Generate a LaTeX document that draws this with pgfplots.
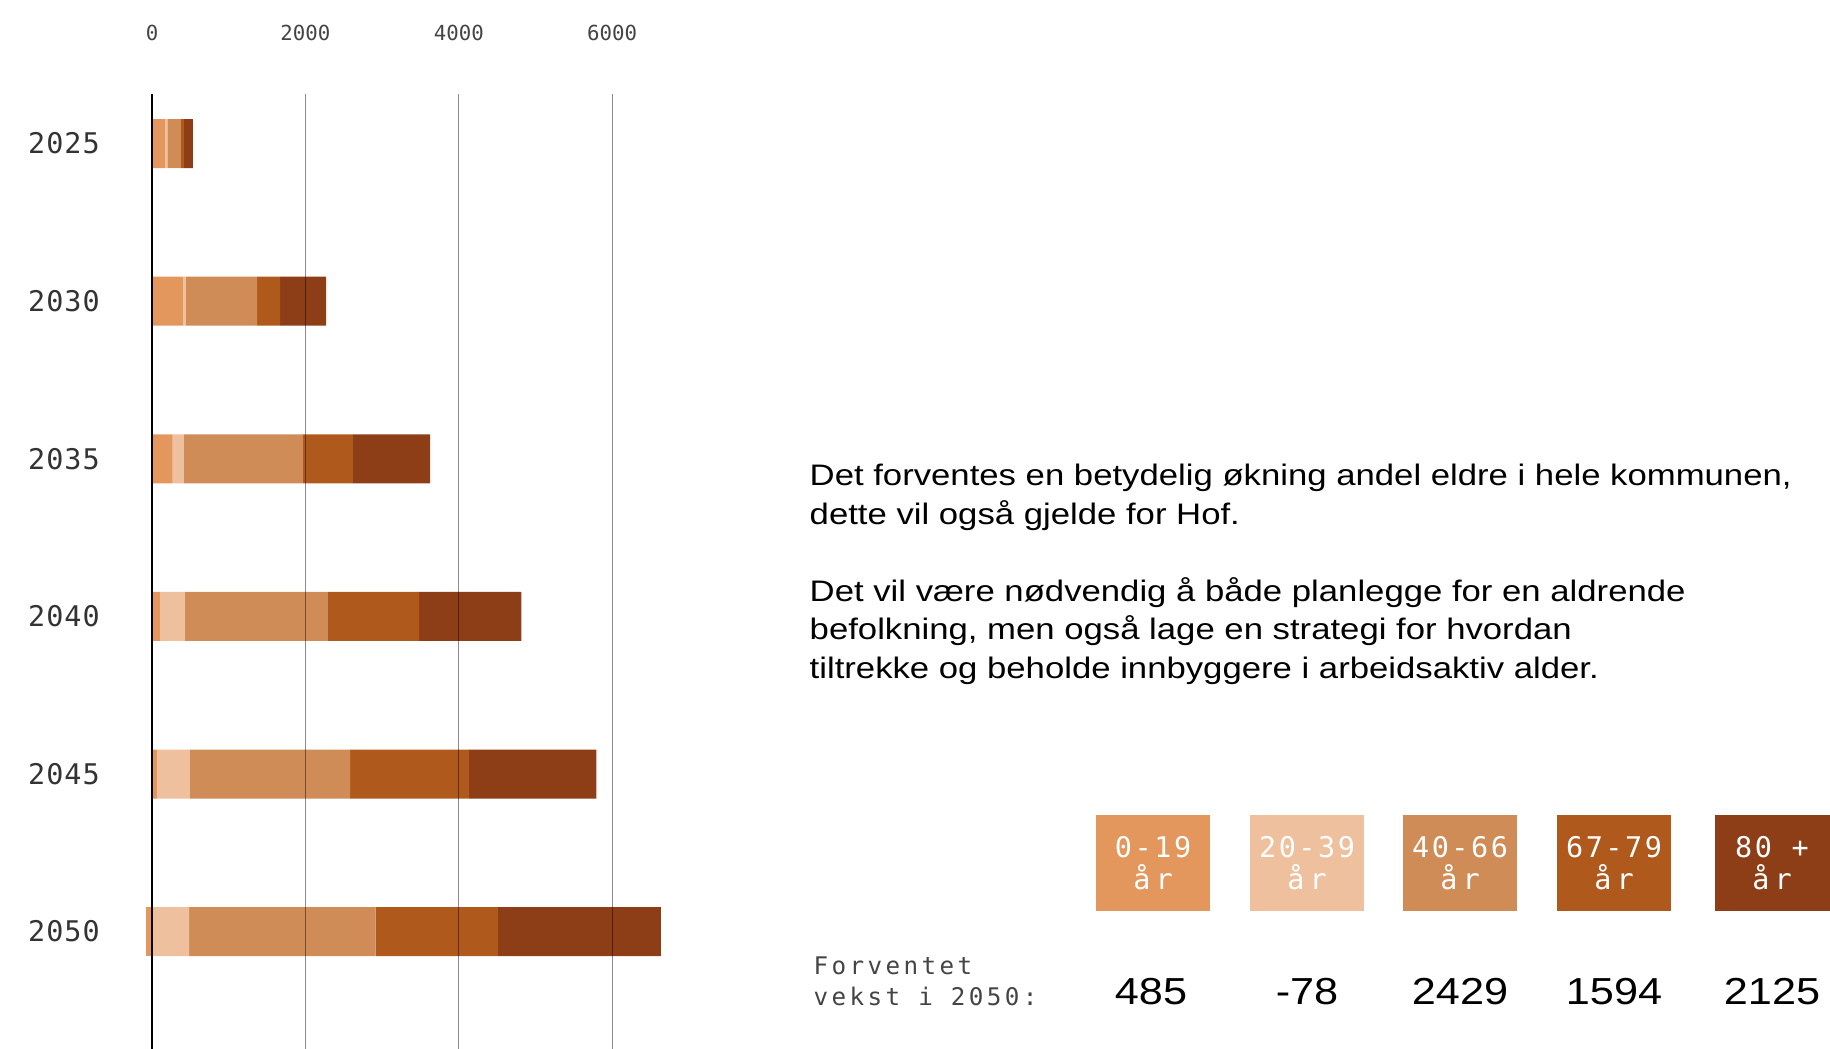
\documentclass[border=0pt]{standalone}
\usepackage{pgfplots}
\pgfplotsset{compat=1.18}
\usepackage{pgfplotstable}
\usepackage{fontspec}
\setmainfont{Liberation Sans}
\newfontfamily\parafont{Liberation Sans}[FakeStretch=1.17]
\newfontfamily\numfont{Liberation Sans}[FakeStretch=1.15]
\newfontfamily\monofont{DejaVu Sans Mono}
\newfontfamily\monoyear{DejaVu Sans Mono}[LetterSpace=3.6]
\newfontfamily\monobox{DejaVu Sans Mono}[LetterSpace=9]
\newfontfamily\monolab{DejaVu Sans Mono}[LetterSpace=14]

\definecolor{cA}{HTML}{E3975C}
\definecolor{cB}{HTML}{EEC09E}
\definecolor{cC}{HTML}{D08C57}
\definecolor{cD}{HTML}{AF5A1C}
\definecolor{cE}{HTML}{8E3E17}
\definecolor{tickgray}{HTML}{444444}
\definecolor{yeargray}{HTML}{333333}

\pgfplotstableread{
idx a b c d e
0 168 33 177 37 117
1 401 42 928 298 601
2 270 144 1552 653 1007
3 103 326 1865 1189 1333
4 65 429 2089 1552 1660
5 0 485 2429 1594 2125
}\datatable

\begin{document}
\begin{tikzpicture}
\path[use as bounding box] (0,0) rectangle (183mm,-104.9mm);

\pgfplotsset{
  baseaxis/.style={
    at={(14.05mm,-9.43mm)}, anchor=north west,
    scale only axis, width=54.84mm, height=95.47mm,
    xmin=-150, xmax=7000, ymin=-0.313, ymax=5.745,
    y dir=reverse,
    axis line style={draw=none},
    major tick length=0pt,
    bar width=4.9mm,
    /pgf/number format/assume math mode=true,
  }
}

\begin{axis}[baseaxis,
  xbar stacked,
  ytick={0,1,2,3,4,5},
  yticklabels={2025,2030,2035,2040,2045,2050},
  yticklabel style={anchor=east, inner sep=0pt, xshift=-4.0mm, text=yeargray, font=\monoyear\fontsize{8.1pt}{9pt}\selectfont},
  xtick={0,2000,4000,6000},
  xticklabels={0,2000,4000,6000},
  xticklabel pos=top,
  xticklabel style={anchor=center, inner sep=0pt, yshift=6.1mm, text=tickgray, font=\monofont\fontsize{5.9pt}{7pt}\selectfont},
]
\addplot[fill=cA, draw=none] table[x=a, y=idx] {\datatable};
\addplot[fill=cB, draw=none] table[x=b, y=idx] {\datatable};
\addplot[fill=cC, draw=none] table[x=c, y=idx] {\datatable};
\addplot[fill=cD, draw=none] table[x=d, y=idx] {\datatable};
\addplot[fill=cE, draw=none] table[x=e, y=idx] {\datatable};
\end{axis}

\begin{axis}[baseaxis,
  xbar, bar shift=0pt,
  axis on top,
  ytick=\empty,
  xtick={2000,4000,6000},
  xticklabels={},
  xmajorgrids,
  grid style={black, opacity=0.45, line width=0.35pt},
  extra x ticks={0},
  extra x tick labels={},
  extra x tick style={grid style={black, opacity=1, line width=0.6pt}},
]
\addplot[fill=cA, draw=none] coordinates {(-78,5)};
\end{axis}

\begin{scope}[x=0.1mm, y=-0.1mm]
\begin{scope}[every node/.style={anchor=base west, inner sep=0pt, font=\parafont\fontsize{8.44pt}{10pt}\selectfont}]
\node at (809,485.7) {Det forventes en betydelig økning andel eldre i hele kommunen,};
\node at (809,524.2) {dette vil også gjelde for Hof.};
\node at (809,601.2) {Det vil være nødvendig å både planlegge for en aldrende};
\node at (809,639.7) {befolkning, men også lage en strategi for hvordan};
\node at (809,678.3) {tiltrekke og beholde innbyggere i arbeidsaktiv alder.};
\end{scope}

\fill[cA] (1096,815) rectangle (1210,911);
\fill[cB] (1250,815) rectangle (1364,911);
\fill[cC] (1403,815) rectangle (1517,911);
\fill[cD] (1557,815) rectangle (1671,911);
\fill[cE] (1715,815) rectangle (1830,911);

\begin{scope}[every node/.style={anchor=base, inner sep=0pt, text=white, font=\monobox\fontsize{8.1pt}{9pt}\selectfont}]
\node at (1153,857) {0-19};
\node at (1307,857) {20-39};
\node at (1460,857) {40-66};
\node at (1614,857) {67-79};
\node at (1772,857) {80 +};
\end{scope}
\begin{scope}[every node/.style={anchor=base, inner sep=0pt, text=white, font=\monofont\fontsize{8.1pt}{9pt}\selectfont}]
\node at (1153,889) {å\kern0.18em r};
\node at (1307,889) {å\kern0.18em r};
\node at (1460,889) {å\kern0.18em r};
\node at (1614,889) {å\kern0.18em r};
\node at (1772,889) {å\kern0.18em r};
\end{scope}

\begin{scope}[every node/.style={anchor=base west, inner sep=0pt, text=tickgray, font=\monolab\fontsize{6.9pt}{8pt}\selectfont}]
\node at (813,974) {Forventet};
\node at (813,1005) {vekst i 2050:};
\end{scope}

\begin{scope}[every node/.style={anchor=base, inner sep=0pt, text=black, font=\numfont\fontsize{10.7pt}{12pt}\selectfont}]
\node at (1151,1004) {485};
\node at (1307,1004) {-78};
\node at (1460,1004) {2429};
\node at (1614,1004) {1594};
\node at (1772,1004) {2125};
\end{scope}
\end{scope}
\end{tikzpicture}
\end{document}
